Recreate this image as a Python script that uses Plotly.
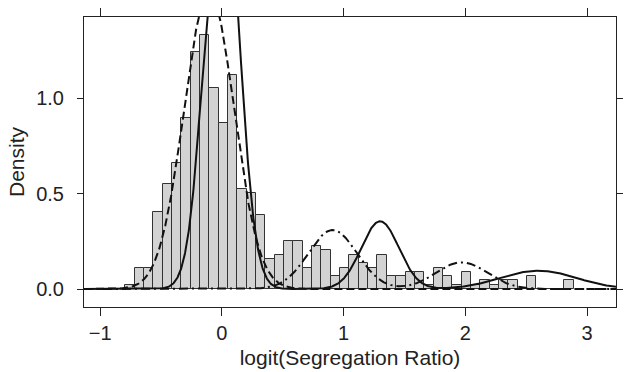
import numpy as np
import plotly.graph_objects as go

# ---------------- data ----------------
# histogram (density scale)
bin_start = -0.7925
bin_width = 0.0767
density = [
    0.0225, 0.1125, 0.1125, 0.405, 0.55, 0.66, 0.895, 1.24, 1.33, 1.055,
    0.87, 1.12, 0.525, 0.505, 0.39, 0.16, 0.18, 0.25, 0.25, 0.112,
    0.228, 0.205, 0.067, 0.112, 0.18, 0.135, 0.112, 0.18, 0.067, 0.067,
    0.09, 0.09, 0.0225, 0.112, 0.067, 0.0225, 0.09, 0.0225, 0.045, 0.0225,
    0.045, 0.045, 0.0, 0.067, 0.0, 0.0, 0.0, 0.045,
]

# fitted normal components (mean, sd, weight) for each line type
solid_mean = [0.0, 1.30, 2.60]
solid_sd = [0.135, 0.155, 0.31]
solid_weight = [0.79, 0.138, 0.075]

dashed_mean = [-0.105]
dashed_sd = [0.205]
dashed_weight = [0.80]

dashdot_mean = [0.91, 1.97]
dashdot_sd = [0.20, 0.21]
dashdot_weight = [0.155, 0.074]

x_ticks = [-1, 0, 1, 2, 3]
y_ticks = [0.0, 0.5, 1.0]
y_tick_labels = ["0.0", "0.5", "1.0"]

x_range = [-1.133, 3.238]
y_range = [-0.094, 1.425]

# ---------------- build figure ----------------
n_bins = len(density)
centers = bin_start + bin_width * (np.arange(n_bins) + 0.5)

grid = np.linspace(x_range[0], x_range[1], 1200)


def mixture(means, sds, weights):
    y = np.zeros_like(grid)
    for m, s, w in zip(means, sds, weights):
        y += w * np.exp(-0.5 * ((grid - m) / s) ** 2) / (s * np.sqrt(2 * np.pi))
    return y


fig = go.Figure()
fig.add_trace(go.Bar(
    x=centers, y=density, width=bin_width,
    marker=dict(color="#d3d3d3", line=dict(color="#333333", width=1)),
    hoverinfo="skip",
))

line_col = "#111111"
fig.add_trace(go.Scatter(x=grid, y=mixture(dashdot_mean, dashdot_sd, dashdot_weight),
                         mode="lines", line=dict(color=line_col, width=2, dash="9px,4px,2px,4px")))
fig.add_trace(go.Scatter(x=grid, y=mixture(dashed_mean, dashed_sd, dashed_weight),
                         mode="lines", line=dict(color=line_col, width=2, dash="8px,4px")))
fig.add_trace(go.Scatter(x=grid, y=mixture(solid_mean, solid_sd, solid_weight),
                         mode="lines", line=dict(color=line_col, width=2)))

font_family = "Liberation Sans, Arial, Helvetica, sans-serif"
axis_common = dict(
    showline=True, linecolor="#222222", linewidth=1, mirror="ticks",
    ticks="outside", tickcolor="#222222", tickwidth=1,
    showgrid=False, zeroline=False,
    tickfont=dict(family=font_family, size=20, color="#222222"),
)

fig.update_layout(
    width=625, height=372,
    margin=dict(l=84, r=2, t=17, b=65),
    paper_bgcolor="white", plot_bgcolor="white",
    showlegend=False, bargap=0,
    font=dict(family=font_family, color="#222222"),
    xaxis=dict(range=x_range, tickvals=x_ticks, ticklen=8,
               title=dict(text="logit(Segregation Ratio)", font=dict(size=21), standoff=7),
               **axis_common),
    yaxis=dict(range=y_range, tickvals=y_ticks, ticktext=y_tick_labels, ticklen=6,
               ticklabelstandoff=9,
               title=dict(text="Density", font=dict(size=21), standoff=5),
               **axis_common),
)

fig.write_html("out.html")
